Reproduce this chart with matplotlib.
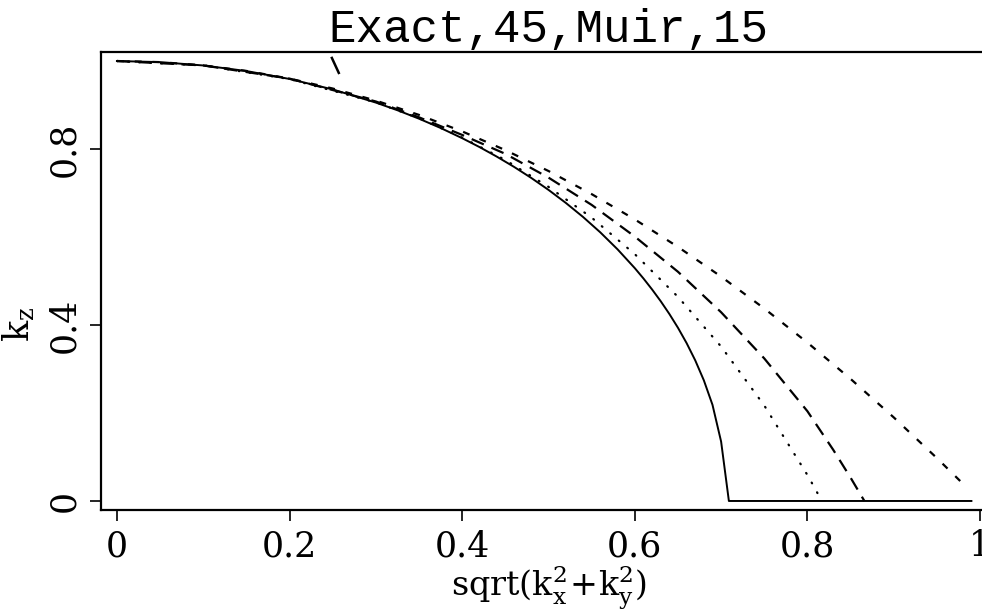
import matplotlib
matplotlib.use("Agg")
import matplotlib.pyplot as plt

plt.rcParams['font.family'] = ['DejaVu Serif']
plt.rcParams['mathtext.fontset'] = 'dejavuserif'
plt.rcParams['lines.scale_dashes'] = False

# ---- data ----
exact_s = [0.0, 0.05, 0.10, 0.15, 0.20, 0.25, 0.30, 0.325, 0.35, 0.375, 0.40, 0.42,
           0.44, 0.46, 0.48, 0.50, 0.52, 0.54, 0.56, 0.58, 0.60, 0.61, 0.62, 0.63,
           0.64, 0.65, 0.66, 0.67, 0.68, 0.69, 0.70, 0.709, 0.99]
exact_k = [1.0, 0.9975, 0.9899, 0.9772, 0.9592, 0.9354, 0.9055, 0.8881, 0.8689, 0.8478,
           0.8246, 0.8045, 0.7828, 0.7595, 0.7343, 0.7071, 0.6776, 0.6456, 0.6106,
           0.5720, 0.5292, 0.5058, 0.4808, 0.4541, 0.4252, 0.3937, 0.3589, 0.3197,
           0.2742, 0.2186, 0.135, 0.0, 0.0]

deg45_s = [0.0, 0.10, 0.20, 0.30, 0.35, 0.40, 0.45, 0.50, 0.55, 0.60, 0.65, 0.70,
           0.75, 0.80, 0.81, 0.8165]
deg45_k = [1.0, 0.990, 0.959, 0.906, 0.870, 0.826, 0.775, 0.714, 0.644, 0.561, 0.464,
           0.351, 0.217, 0.059, 0.024, 0.0]

muir_s = [0.0, 0.10, 0.20, 0.30, 0.35, 0.40, 0.45, 0.50, 0.55, 0.60, 0.65, 0.70,
          0.75, 0.80, 0.83, 0.85, 0.866]
muir_k = [1.0, 0.990, 0.960, 0.908, 0.872, 0.832, 0.789, 0.735, 0.673, 0.601, 0.521,
          0.429, 0.324, 0.204, 0.116, 0.053, 0.0]

deg15_s = [0.0, 0.05, 0.10, 0.15, 0.20, 0.25, 0.30, 0.35, 0.40, 0.45, 0.50, 0.55,
           0.60, 0.65, 0.70, 0.75, 0.80, 0.85, 0.90, 0.95, 0.98]
deg15_k = [1.0, 0.9975, 0.99, 0.9775, 0.96, 0.9375, 0.91, 0.8775, 0.84, 0.7975, 0.75,
           0.6975, 0.64, 0.5775, 0.51, 0.4375, 0.36, 0.2775, 0.19, 0.0975, 0.0396]

stray_s = [0.249, 0.257]
stray_k = [1.007, 0.973]

title = "Exact,45,Muir,15"
xticks = [0, 0.2, 0.4, 0.6, 0.8, 1]
xticklabels = ["0", "0.2", "0.4", "0.6", "0.8", "1"]
yticks = [0, 0.4, 0.8]
yticklabels = ["0", "0.4", "0.8"]

W, H = 982, 610
fig = plt.figure(figsize=(W / 100, H / 100), dpi=100)
ax = fig.add_axes([101 / W, 1 - 510 / H, (996 - 101) / W, (510 - 52) / H])

ax.plot(exact_s, exact_k, color='black', lw=1.4)
ax.plot(deg45_s, deg45_k, color='black', lw=1.6, dashes=(0.6, 7.4), dash_capstyle='round')
ax.plot(muir_s, muir_k, color='black', lw=1.6, dashes=(9.5, 6.0))
ax.plot(deg15_s, deg15_k, color='black', lw=1.6, dashes=(5.0, 7.8))
ax.plot(stray_s, stray_k, color='black', lw=1.8)

ax.set_xlim(-0.0185, 1.0185)
ax.set_ylim(-0.0205, 1.0205)

ax.set_xticks(xticks)
ax.set_xticklabels(xticklabels)
ax.set_yticks(yticks)
ax.set_yticklabels(yticklabels, rotation=90, va='center')
ax.tick_params(axis='both', direction='out', length=8, width=1.2, labelsize=25,
               color='black', pad=6)

for side in ['left', 'bottom', 'top']:
    ax.spines[side].set_linewidth(1.6)
ax.spines['right'].set_visible(False)

ax.set_title(title, fontsize=33, pad=2, family=['Liberation Mono', 'DejaVu Serif'])
ax.set_xlabel(r"sqrt($\mathrm{k_x^2\!+\!k_y^2}$)", fontsize=24, labelpad=0)
ax.set_ylabel(r"$\mathrm{k_z}$", fontsize=25)
ax.yaxis.set_label_coords(-0.072, 0.406)

fig.savefig("out.png", dpi=100)
